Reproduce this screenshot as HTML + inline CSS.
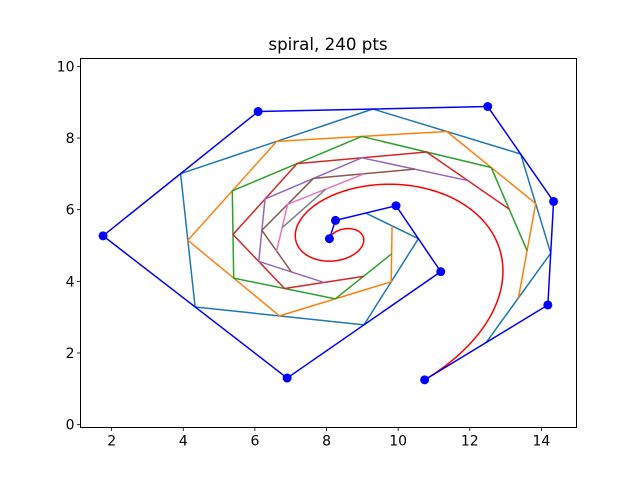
<!DOCTYPE html>
<html><head><meta charset="utf-8"><style>
body{margin:0;background:#fff}
svg{display:block;font-family:"DejaVu Sans","Liberation Sans",sans-serif}
</style></head><body>
<svg id="chart" width="640" height="480" xmlns="http://www.w3.org/2000/svg">
<rect width="640" height="480" fill="#fff"/>
<text x="328" y="50" font-size="16.7" text-anchor="middle">spiral, 240 pts</text>
<g id="plot"></g>
<rect x="80.5" y="58.5" width="496" height="369" fill="none" stroke="#000" stroke-width="1"/>
<g id="axes"></g>
</svg>
<script>
const ctrlX = [8.08, 8.25, 9.94, 11.19, 6.90, 1.76, 6.09, 12.50, 14.34, 14.18, 10.74];
const ctrlY = [5.19, 5.70, 6.11, 4.27, 1.30, 5.27, 8.74, 8.88, 6.23, 3.34, 1.25];
const xTicks = [2, 4, 6, 8, 10, 12, 14];
const yTicks = [0, 2, 4, 6, 8, 10];
const nPts = 240;
const levelColors = ["#1f77b4","#ff7f0e","#2ca02c","#d62728","#9467bd","#8c564b","#e377c2","#7f7f7f","#bcbd22","#17becf"];

const NS = "http://www.w3.org/2000/svg";
const xMin = 1.13, xMax = 14.98, yMin = -0.08, yMax = 10.22;
const L = 80.5, R = 576.5, T = 58.5, B = 427.5;
function sx(v){ return L + (v - xMin) / (xMax - xMin) * (R - L); }
function sy(v){ return B - (v - yMin) / (yMax - yMin) * (B - T); }

const plot = document.getElementById('plot');
const axes = document.getElementById('axes');
function mk(tag, attrs, parent){
  const e = document.createElementNS(NS, tag);
  for (const k in attrs) e.setAttribute(k, attrs[k]);
  parent.appendChild(e);
  return e;
}
function ptsStr(xs, ys){ return xs.map((x,i)=>sx(x).toFixed(2)+","+sy(ys[i]).toFixed(2)).join(" "); }

let lx = ctrlX.slice(), ly = ctrlY.slice();
let lvl = 0;
while (lx.length > 1) {
  const nx = [], ny = [];
  for (let i = 0; i < lx.length - 1; i++) { nx.push((lx[i]+lx[i+1])/2); ny.push((ly[i]+ly[i+1])/2); }
  lx = nx; ly = ny;
  if (lx.length > 2) {
    const pl = mk('polyline', {points: ptsStr(lx.slice(1), ly.slice(1)), fill: 'none', stroke: levelColors[lvl % 10], 'stroke-width': 1.5, 'stroke-linejoin': 'round'}, plot);
    
    
  }
  lvl++;
}

const n = ctrlX.length - 1;
function binom(a,b){ let r=1; for(let i=1;i<=b;i++) r = r*(a-b+i)/i; return r; }
const cx = [], cy = [];
for (let k = 0; k < nPts; k++) {
  const t = k / (nPts - 1);
  let x = 0, y = 0;
  for (let i = 0; i <= n; i++) {
    const b = binom(n,i) * Math.pow(t,i) * Math.pow(1-t,n-i);
    x += b * ctrlX[i]; y += b * ctrlY[i];
  }
  cx.push(x); cy.push(y);
}
const curve = mk('polyline', {points: ptsStr(cx, cy), fill: 'none', stroke: '#ff0000', 'stroke-width': 1.5}, plot);



const poly = mk('polyline', {points: ptsStr(ctrlX, ctrlY), fill: 'none', stroke: '#0000ff', 'stroke-width': 1.5}, plot);


ctrlX.forEach((x, i) => {
  const c = mk('circle', {cx: sx(x), cy: sy(ctrlY[i]), r: 4.5, fill: '#0000ff'}, plot);
  
  
});

xTicks.forEach(v => {
  const ln = mk('line', {x1: sx(v), x2: sx(v), y1: B, y2: B + 3.5, stroke: '#000', 'stroke-width': 0.8}, axes);
  
  
  const tx = mk('text', {x: sx(v), y: B + 18, 'font-size': 14, 'text-anchor': 'middle'}, axes);
  tx.textContent = v;
  
  
});
yTicks.forEach(v => {
  const ln = mk('line', {x1: L - 3.5, x2: L, y1: sy(v), y2: sy(v), stroke: '#000', 'stroke-width': 0.8}, axes);
  
  
  const tx = mk('text', {x: L - 6, y: sy(v) + 5, 'font-size': 14, 'text-anchor': 'end'}, axes);
  tx.textContent = v;
  
  
});
</script>
</body></html>
